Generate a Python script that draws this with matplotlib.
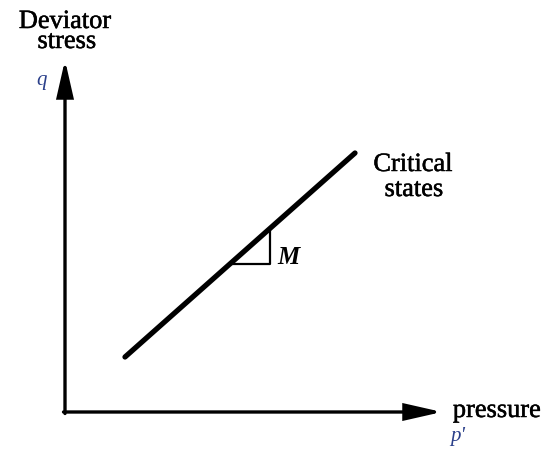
import matplotlib.pyplot as plt
import matplotlib.patheffects as pe

# critical state line in the p'-q plane (pixel-ish units from the origin)
p_csl = [60, 290]
q_csl = [55, 259]

# slope triangle marking M
p_tri = [167, 205, 205]
q_tri = [148, 148, 183]

# axis extents
p_max = 377
q_max = 352

plt.rcParams['font.family'] = ['Liberation Serif', 'DejaVu Serif']

fig = plt.figure(figsize=(5.49, 4.5), dpi=100)
ax = fig.add_axes([0, 0, 1, 1])
ax.set_xlim(-65, 484)
ax.set_ylim(-38, 412)
ax.axis('off')

arrow = dict(arrowstyle='-|>,head_length=1.1,head_width=0.25', lw=2.4,
             color='black', mutation_scale=20, shrinkA=0, shrinkB=0,
             joinstyle='miter')
ax.annotate('', xy=(0, q_max), xytext=(0, -1.5), arrowprops=arrow)
ax.annotate('', xy=(p_max, 0), xytext=(-1.5, 0), arrowprops=arrow)

ax.plot(p_csl, q_csl, color='black', lw=3.8, solid_capstyle='round')
ax.plot(p_tri, q_tri, color='black', lw=1.6)

thick = [pe.withStroke(linewidth=0.35, foreground='black')]
lbl = dict(fontsize=19, ha='center', va='center', path_effects=thick)

ax.text(0, 390, 'Deviator', **lbl)
ax.text(2, 370, 'stress', **lbl)
ax.text(-23, 332, 'q', fontsize=15, style='italic', color='#2a3f8a',
        ha='center', va='center')

ax.text(348, 247, 'Critical', **lbl)
ax.text(349, 222, 'states', **lbl)
ax.text(223, 154, 'M', fontsize=18, style='italic', weight='bold',
        ha='center', va='center')

ax.text(432, 1, 'pressure', **lbl)
ax.text(393, -24, "p'", fontsize=15, style='italic', color='#2a3f8a',
        ha='center', va='center')

fig.savefig('out.png', dpi=100)
